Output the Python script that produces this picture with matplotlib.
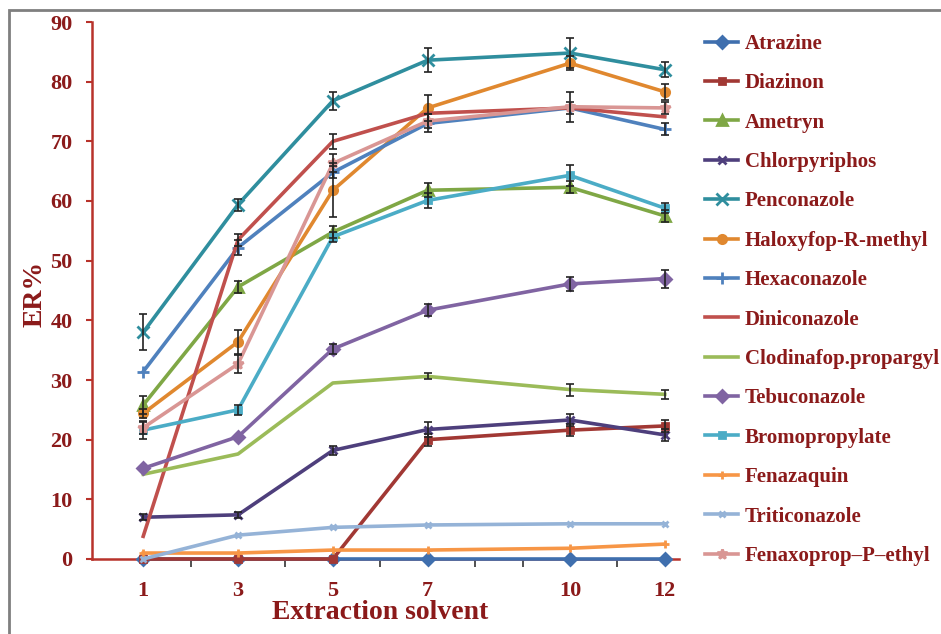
import matplotlib
matplotlib.use('Agg')
import matplotlib.pyplot as plt
from matplotlib.patches import Rectangle
import numpy as np

plt.rcParams['font.family'] = ['Liberation Serif', 'DejaVu Serif']
plt.rcParams['font.weight'] = 'bold'

# extraction solvent volumes and ER% values
solvent = [1, 3, 5, 7, 10, 12]
atrazine = [0, 0, 0, 0, 0, 0]
diazinon = [0, 0, 0, 20.0, 21.6, 22.3]
ametryn = [25.8, 45.6, 54.8, 61.8, 62.3, 57.5]
chlorpyriphos = [7.0, 7.4, 18.2, 21.7, 23.3, 20.8]
penconazole = [38.0, 59.4, 76.8, 83.6, 84.8, 82.0]
haloxyfop = [24.4, 36.4, 61.8, 75.6, 83.1, 78.3]
hexaconazole = [31.4, 52.2, 64.8, 73.0, 75.6, 72.0]
diniconazole = [3.8, 53.5, 70.0, 74.7, 75.6, 74.1]
clodinafop = [14.2, 17.6, 29.5, 30.6, 28.4, 27.6]
tebuconazole = [15.2, 20.5, 35.2, 41.7, 46.1, 47.0]
bromopropylate = [21.6, 25.0, 54.0, 60.1, 64.3, 58.8]
fenazaquin = [1.0, 1.0, 1.5, 1.5, 1.8, 2.5]
triticonazole = [0, 4.0, 5.3, 5.7, 5.9, 5.9]
fenaxoprop = [22.0, 32.7, 66.3, 73.4, 75.8, 75.6]

# error bars (0 = none drawn)
no_err = [0, 0, 0, 0, 0, 0]
diazinon_err = [0, 0, 0, 1.0, 1.0, 1.0]
ametryn_err = [1.5, 1.0, 1.0, 1.2, 1.0, 1.0]
chlorpyriphos_err = [0.5, 0.5, 0.8, 1.2, 1.0, 1.0]
penconazole_err = [3.0, 1.0, 1.5, 2.0, 2.5, 1.3]
haloxyfop_err = [0.8, 2.0, 4.5, 2.2, 1.2, 1.3]
hexaconazole_err = [0, 1.3, 1.0, 1.5, 1.0, 1.0]
diniconazole_err = [0, 1.0, 1.3, 0, 0, 0]
clodinafop_err = [0, 0, 0, 0.5, 1.0, 0.8]
tebuconazole_err = [0, 0, 0.8, 1.0, 1.2, 1.5]
bromopropylate_err = [1.5, 0.8, 0.8, 1.2, 1.8, 0.8]
fenaxoprop_err = [1.0, 1.5, 1.5, 1.2, 2.5, 1.0]

series = [
    ('Atrazine', atrazine, no_err, '#3F6FAE', 'D', 6),
    ('Diazinon', diazinon, diazinon_err, '#A13834', 's', 5),
    ('Ametryn', ametryn, ametryn_err, '#7FA745', '^', 7),
    ('Chlorpyriphos', chlorpyriphos, chlorpyriphos_err, '#4E3F7C', 'x', 6),
    ('Penconazole', penconazole, penconazole_err, '#2F8E9E', 'x', 8),
    ('Haloxyfop-R-methyl', haloxyfop, haloxyfop_err, '#E0882F', 'o', 6),
    ('Hexaconazole', hexaconazole, hexaconazole_err, '#4F81BD', '+', 8),
    ('Diniconazole', diniconazole, diniconazole_err, '#C0504D', None, 0),
    ('Clodinafop.propargyl', clodinafop, clodinafop_err, '#9BBB59', None, 0),
    ('Tebuconazole', tebuconazole, tebuconazole_err, '#8064A2', 'D', 6),
    ('Bromopropylate', bromopropylate, bromopropylate_err, '#4BACC6', 's', 5),
    ('Fenazaquin', fenazaquin, no_err, '#F79646', '+', 6),
    ('Triticonazole', triticonazole, no_err, '#95B3D7', 'x', 5),
    ('Fenaxoprop\u2013P\u2013ethyl', fenaxoprop, fenaxoprop_err, '#D99694', '*', 7),
]

txt_red = '#8B1A1A'
axis_red = '#B8322B'

fig = plt.figure(figsize=(9.41, 6.34), dpi=100)
ax = fig.add_axes([92/941, 75/634, 587/941, 537/634])

for name, vals, err, col, mk, ms in series:
    ax.plot(solvent, vals, color=col, lw=2.6, marker=mk, markersize=ms,
            markeredgewidth=2, label=name, clip_on=False, zorder=3)
    xs = [s for s, e in zip(solvent, err) if e > 0]
    ys = [v for v, e in zip(vals, err) if e > 0]
    es = [e for e in err if e > 0]
    if es:
        ax.errorbar(xs, ys, yerr=es, fmt='none', ecolor='#222222',
                    elinewidth=1.2, capsize=3, capthick=1.2, zorder=4)

ax.set_xlim(-0.08, 12.3)
ax.set_ylim(0, 90)
ax.set_yticks(np.arange(0, 91, 10))
ax.set_xticks(solvent)
ax.set_xticks([2, 4, 6, 8, 9, 11], minor=True)
ax.tick_params(axis='x', which='major', length=0, pad=16, labelsize=16,
               labelcolor=txt_red)
ax.tick_params(axis='x', which='minor', length=6, width=1.2, color='#333333',
               direction='out')
ax.tick_params(axis='y', length=4, width=1.5, color=axis_red, pad=10,
               labelsize=16, labelcolor=txt_red)
for lab in ax.get_xticklabels() + ax.get_yticklabels():
    lab.set_fontweight('bold')

for side in ['top', 'right']:
    ax.spines[side].set_visible(False)
ax.spines['left'].set_color(axis_red)
ax.spines['left'].set_linewidth(1.8)
ax.spines['bottom'].set_color(axis_red)
ax.spines['bottom'].set_linewidth(1.8)

ax.set_ylabel('ER%', fontsize=20, fontweight='bold', color=txt_red, va='center')
ax.yaxis.set_label_coords(-0.097, 0.493)
ax.set_xlabel('Extraction solvent', fontsize=20, fontweight='bold',
              color=txt_red, va='center')
ax.xaxis.set_label_coords(0.49, -0.1)

leg = ax.legend(loc='upper left', bbox_to_anchor=(705/941, 600/634),
                bbox_transform=fig.transFigure, frameon=False, fontsize=15,
                handlelength=1.6, handletextpad=0.3, labelspacing=0.93,
                borderaxespad=0, borderpad=0)
for t in leg.get_texts():
    t.set_color(txt_red)
    t.set_fontweight('bold')

# grey frame around the chart area
fig.patches.append(Rectangle((9/941, -0.1), 1.2, (624/634) + 0.1,
                             transform=fig.transFigure, fill=False,
                             edgecolor='#7F7F7F', lw=2))

fig.savefig('out.png', dpi=100)
